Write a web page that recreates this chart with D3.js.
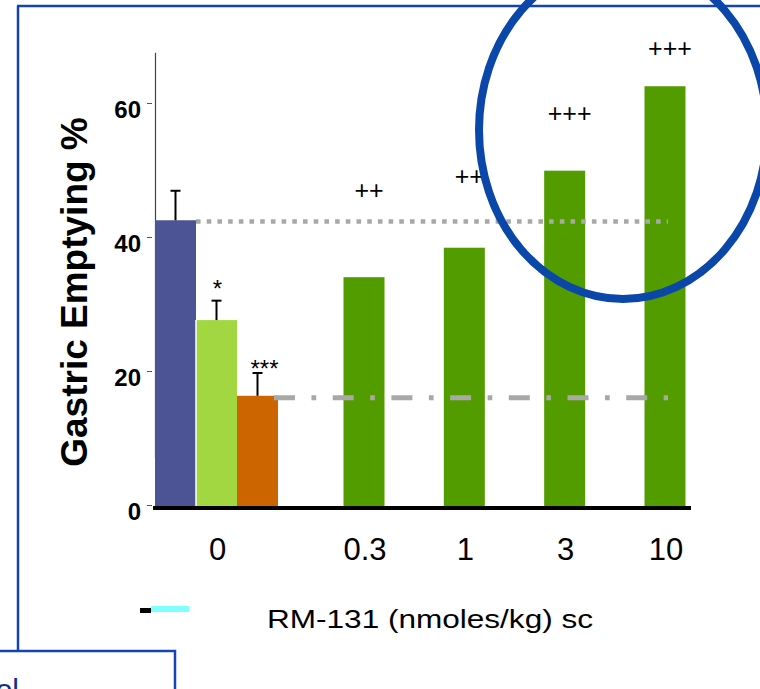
<!DOCTYPE html>
<html>
<head>
<meta charset="utf-8">
<script src="https://cdn.jsdelivr.net/npm/d3@7"></script>
<style>
  body { margin: 0; background: #fff; }
  svg { display: block; font-family: "Liberation Sans", Arial, sans-serif; }
</style>
</head>
<body>
<svg id="chart" width="760" height="689"></svg>
<script>
// Chart data
const doses = ["0", "0.3", "1", "3", "10"];
const controlGroups = ["vehicle", "ctrlA", "ctrlB"];
const controlMeans = [42.5, 27.6, 16.3];
const controlSEM = [4.4, 2.9, 3.4];
const controlColors = ["#4c5495", "#a3d742", "#cc6400"];
const controlMarks = ["", "*", "***"];
const controlMarkY = [0, 33.2, 21.2];
const rmDoses = ["0.3", "1", "3", "10"];
const rmMeans = [34.0, 38.4, 49.9, 62.5];
const rmMarks = ["++", "++", "+++", "+++"];
const rmMarkY = [47.0, 49.0, 58.5, 68.1];
const yTicks = [0, 20, 40, 60];
const vehicleLevel = 42.3;
const lowLevel = 16.0;

const svg = d3.select("#chart");
const frameColor = "#1443b5";

// scales
const y = d3.scaleLinear().domain([0, 60]).range([505, 103]);
const xCtrl = d3.scaleBand().domain(controlGroups).range([155, 278]);
const xRm = d3.scalePoint().domain(rmDoses).range([364, 665]);
const bw = xCtrl.bandwidth();
const lineEnd = 668;

function doseX(d) {
  return d === "0" ? xCtrl(controlGroups[1]) + bw / 2 : xRm(d);
}

// slide frame
svg.append("line").attr("x1", 17).attr("x2", 760).attr("y1", 6).attr("y2", 6)
  .attr("stroke", frameColor).attr("stroke-width", 2.5);
svg.append("line").attr("x1", 18).attr("x2", 18).attr("y1", 6).attr("y2", 651)
  .attr("stroke", frameColor).attr("stroke-width", 2.5);
svg.append("path").attr("d", "M0,651H175V689")
  .attr("fill", "none").attr("stroke", frameColor).attr("stroke-width", 2.5);
svg.append("text").attr("x", 19).attr("y", 700).attr("text-anchor", "end")
  .attr("font-size", 30).attr("fill", "#0b2f8f").text("ol");

// y axis
svg.append("line").attr("x1", 155.5).attr("x2", 155.5)
  .attr("y1", y(67.5)).attr("y2", 458)
  .attr("stroke", "#444").attr("stroke-width", 1.2);

const yAxis = svg.append("g").attr("transform", "translate(152,0)")
  .call(d3.axisLeft(y).tickValues(yTicks).tickSize(5).tickPadding(6));
yAxis.select(".domain").remove();
yAxis.selectAll(".tick line").attr("stroke", "#555");
yAxis.selectAll(".tick text")
  .attr("font-family", "'Liberation Sans', Arial, sans-serif")
  .attr("font-size", 24).attr("font-weight", "bold").attr("fill", "#000")
  .attr("dy", "0.6em");

svg.append("text")
  .attr("transform", `translate(87,${292}) rotate(-90)`)
  .attr("text-anchor", "middle")
  .attr("font-size", 37).attr("font-weight", "bold")
  .text("Gastric Emptying %");

// control bars
const ctrl = controlGroups.map((g, i) => ({
  g, mean: controlMeans[i], sem: controlSEM[i], color: controlColors[i],
  mark: controlMarks[i], markY: controlMarkY[i]
}));

svg.append("g").selectAll("rect").data(ctrl).enter().append("rect")
  .attr("x", d => xCtrl(d.g)).attr("width", bw)
  .attr("y", d => y(d.mean)).attr("height", d => y(0) - y(d.mean) + 2)
  .attr("fill", d => d.color);

// thin white separator between vehicle and next bar
svg.append("line")
  .attr("x1", xCtrl(controlGroups[1])).attr("x2", xCtrl(controlGroups[1]))
  .attr("y1", y(controlMeans[1])).attr("y2", y(0) + 2)
  .attr("stroke", "#fff").attr("stroke-width", 1.5);

// error bars
const eb = svg.append("g").attr("stroke", "#000").attr("stroke-width", 2);
ctrl.forEach(d => {
  const cx = xCtrl(d.g) + bw / 2;
  eb.append("line").attr("x1", cx).attr("x2", cx)
    .attr("y1", y(d.mean)).attr("y2", y(d.mean + d.sem));
  eb.append("line").attr("x1", cx - 5).attr("x2", cx + 5)
    .attr("y1", y(d.mean + d.sem)).attr("y2", y(d.mean + d.sem));
});

svg.append("g").selectAll("text").data(ctrl.filter(d => d.mark)).enter().append("text")
  .attr("x", d => xCtrl(d.g) + bw / 2 + (d.mark.length > 1 ? 7 : 1))
  .attr("y", d => y(d.markY))
  .attr("dy", "0.6em")
  .attr("text-anchor", "middle").attr("font-size", 24)
  .text(d => d.mark);

// RM-131 bars
const rm = rmDoses.map((d, i) => ({ d, mean: rmMeans[i], mark: rmMarks[i], markY: rmMarkY[i] }));

svg.append("g").selectAll("rect").data(rm).enter().append("rect")
  .attr("x", d => xRm(d.d) - bw / 2).attr("width", bw)
  .attr("y", d => y(d.mean)).attr("height", d => y(0) - y(d.mean) + 2)
  .attr("fill", "#529c00");

svg.append("g").selectAll("text").data(rm).enter().append("text")
  .attr("x", d => xRm(d.d) + 5)
  .attr("y", d => y(d.markY))
  .attr("dy", "0.35em")
  .attr("text-anchor", "middle").attr("font-size", 25)
  .text(d => d.mark);

// reference lines
svg.append("line")
  .attr("x1", xCtrl(controlGroups[0]) + bw).attr("x2", lineEnd)
  .attr("y1", y(vehicleLevel)).attr("y2", y(vehicleLevel))
  .attr("stroke", "#a8a8a8").attr("stroke-width", 4.5)
  .attr("stroke-dasharray", "4.6 6.1");
svg.append("line")
  .attr("x1", xCtrl(controlGroups[2]) + bw - 4).attr("x2", lineEnd)
  .attr("y1", y(lowLevel)).attr("y2", y(lowLevel))
  .attr("stroke", "#a8a8a8").attr("stroke-width", 5)
  .attr("stroke-dasharray", "21 16.5 4.7 16.5");

// x axis baseline
svg.append("line").attr("x1", 153).attr("x2", 691)
  .attr("y1", y(0) + 3).attr("y2", y(0) + 3)
  .attr("stroke", "#000").attr("stroke-width", 4);

svg.append("g").selectAll("text").data(doses).enter().append("text")
  .attr("x", d => doseX(d) + 1).attr("y", 560)
  .attr("text-anchor", "middle").attr("font-size", 31)
  .text(d => d);

svg.append("text").attr("x", 267).attr("y", 628)
  .attr("font-size", 25.5)
  .attr("textLength", 326).attr("lengthAdjust", "spacingAndGlyphs")
  .text("RM-131 (nmoles/kg) sc");

// legend stub
svg.append("rect").attr("x", 140).attr("y", 608).attr("width", 11).attr("height", 5).attr("fill", "#000");
svg.append("rect").attr("x", 151).attr("y", 606).attr("width", 38).attr("height", 6).attr("fill", "#7fffff");

// highlight ellipse
svg.append("ellipse").attr("cx", 623).attr("cy", 130).attr("rx", 144).attr("ry", 169)
  .attr("fill", "none").attr("stroke", "#0a47a9").attr("stroke-width", 8);
</script>
</body>
</html>
